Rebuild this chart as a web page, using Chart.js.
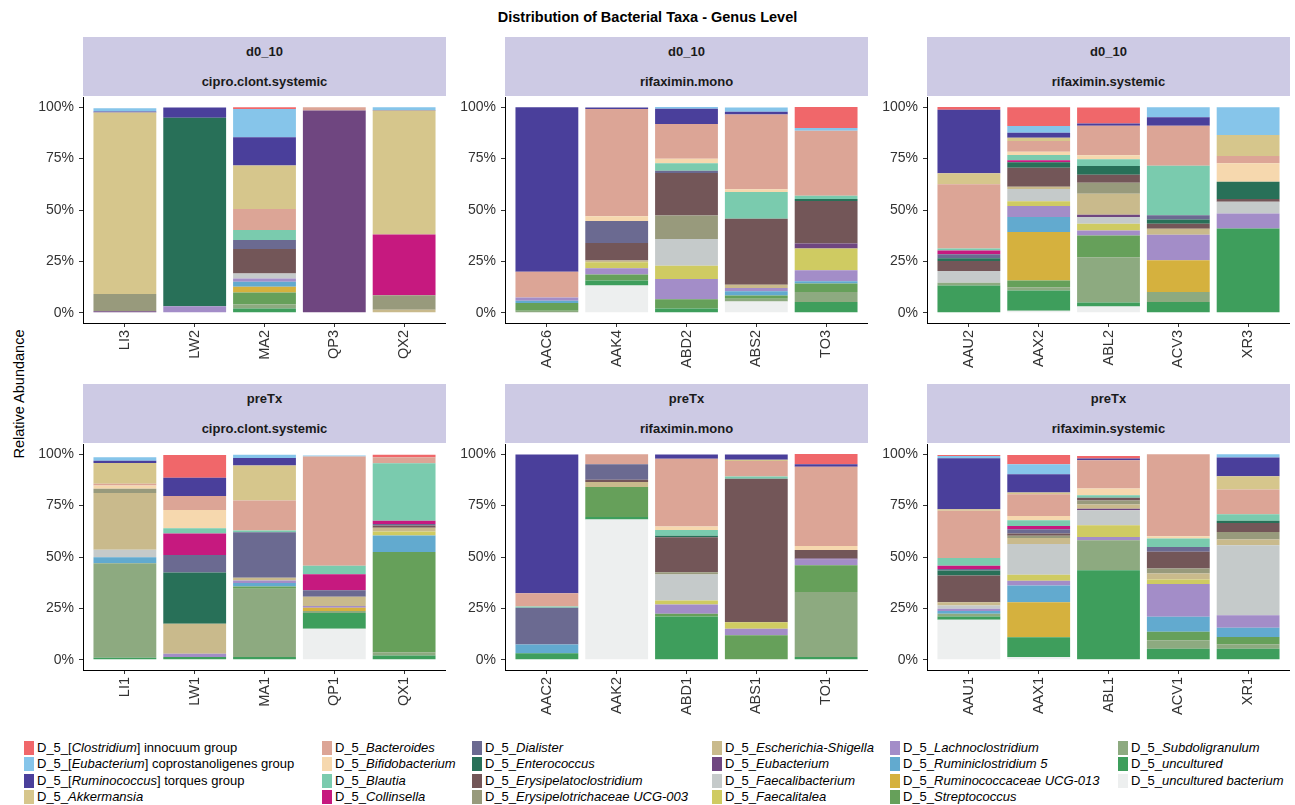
<!DOCTYPE html>
<html>
<head>
<meta charset="utf-8">
<title>Distribution of Bacterial Taxa - Genus Level</title>
<script src="https://cdn.jsdelivr.net/npm/chart.js@4"></script>
<style>
  body { margin: 0; background: #fff; font-family: "Liberation Sans", Arial, sans-serif; }
  #page { position: relative; width: 1295px; height: 805px; overflow: hidden; }
  .title { position: absolute; left: 0; top: 9px; width: 1295px; text-align: center; font-weight: bold; font-size: 14.5px; color: #000; }
  .ytitle { position: absolute; left: 19px; top: 394px; transform: translate(-50%, -50%) rotate(-90deg); font-size: 14.5px; color: #000; white-space: nowrap; }
  .strip { position: absolute; background: #cdcae4; color: #1a1a1a; font-weight: bold; font-size: 13px; text-align: center; }
  .panel { position: absolute; }
  .key { position: absolute; font-size: 13px; line-height: 16px; color: #000; white-space: nowrap; }
  .key span { display: inline-block; width: 10px; height: 14px; vertical-align: -3px; margin-right: 3px; }
</style>
</head>
<body>
<div id="page">
  <div class="title">Distribution of Bacterial Taxa - Genus Level</div>
  <div class="ytitle">Relative Abundance</div>
</div>
<script>
// samples, 5 per facet, facets in reading order
const samples = ["LI3", "LW2", "MA2", "QP3", "QX2",
                 "AAC6", "AAK4", "ABD2", "ABS2", "TO3",
                 "AAU2", "AAX2", "ABL2", "ACV3", "XR3",
                 "LI1", "LW1", "MA1", "QP1", "QX1",
                 "AAC2", "AAK2", "ABD1", "ABS1", "TO1",
                 "AAU1", "AAX1", "ABL1", "ACV1", "XR1"];
const timepoints = ["d0_10", "d0_10", "d0_10", "preTx", "preTx", "preTx"];
const groups = ["cipro.clont.systemic", "rifaximin.mono", "rifaximin.systemic",
                "cipro.clont.systemic", "rifaximin.mono", "rifaximin.systemic"];
const yTicks = [0, 25, 50, 75, 100];

// relative abundance (%) per genus, same order as samples
const clostridiumInnocuum   = [0,0,0.8,0,0, 0,0,0,0,10.2, 1.3,9.1,7.8,0,0, 0,11,0,0,1.3, 0,0,0,0,4.9, 0.5,4.5,1.3,0,0];
const eubacteriumCopro      = [1.6,0,13.8,0,1.3, 0,0,0.8,2.1,1.3, 0,3.3,0,4.9,13.5, 1.6,0,1.6,0.5,0, 0,0,0,0,0, 1.1,4.9,0,0,1.6];
const ruminococcusTorques   = [0.4,5,13.8,0,0.3, 80.1,0.8,7.5,1.3,0, 30.9,2.4,1.1,4.1,0, 1.1,8.9,3.7,0,0, 67.5,0,2.1,2.6,1.3, 24.8,8.9,0.8,0,9.1];
const akkermansia           = [88.4,0,21.1,0,60.3, 0,0,0,0,0, 5.4,1.6,0,0,10.2, 10.2,0,17,0,0, 0,0,0,0.6,0, 0.8,0.8,0,0,6.5];
const bacteroides           = [0,0,10.2,1.6,0, 12.5,52.2,16.9,36.4,31.7, 31.2,5.2,14.3,19.5,3.6, 0.8,6.8,14.6,53.2,2.9, 6.5,4.9,33,7.5,38.6, 23,10.6,13.8,39.9,12];
const bifidobacterium       = [0,0,0,0,0, 0,2.3,2.1,1.3,0, 0,1.6,2,0,8.9, 1.6,8.9,0,0,0, 0,0,1.6,0,1.9, 0,2.1,3.2,1.1,0];
const blautia               = [0,0,4.9,0,0, 0,0,3.7,13,1.5, 1,2.6,3.3,24.1,0, 0,2.6,0.8,4.1,27.9, 0.6,0,2.8,1.1,0, 3.7,2.8,1.3,4.1,3.2];
const collinsella           = [0,0,0,0,29.6, 0,0,0,0,0, 1.8,1,0,0,0, 0,10.4,0,7.8,1.6, 0,0,0,0,0, 1.6,1.6,0,0,0];
const dialister             = [0,0,4.4,0,0, 0,10.7,1.1,0,0, 2,0,0,2,0, 0,8.6,22.2,3.2,0.8, 17.9,7.5,0,0,0, 0.8,2.1,0,2.4,0];
const enterococcus          = [0,91.7,0,0,0, 0,0,0,0,1, 1.3,2.6,4.2,2.1,8.5, 0,24.9,0,0,0, 0,0,0.8,0,0, 2.4,0,0,0,1];
const erysipelatoclostridium = [0,0,11.9,0,0, 0,8.5,20.7,32.2,20.7, 4.9,9.3,3.9,2.4,1.3, 0,0,0,0,1.1, 0,1.1,17,69.8,4.1, 13,1.1,1.3,8.1,4.4];
const erysipelotrichaceae   = [8.4,0,0,0,7, 0,0,11.4,0,0, 0,0,5.4,0,0, 2.1,0,0,0,0, 0,0,1.1,0,0, 0,1.1,1.9,2.4,3.7];
const escherichiaShigella   = [0,0,0,0,1.5, 0,0.8,0,1.6,0, 0,1.1,10.2,2.9,0, 27.6,14.6,1.3,4.5,1.8, 0,2.4,0,0,0, 1.6,2.9,2.1,2.9,2.8];
const eubacterium           = [0.7,0,0,98.4,0, 0,0,0,0,2.4, 0,0,1.1,0,0, 0,0,0,0,0, 0,0,0,0,0.5, 0,0,0.8,0,0];
const faecalibacterium      = [0,0,2.4,0,0, 0,0,13,0,0, 5.7,5.9,3.3,0,5.7, 3.6,0,0,0,0, 0,0,12.7,0,0, 1.6,14.9,7.3,0,34.1];
const faecalitalea          = [0,0,0,0,0, 0,2.9,6.5,0,10.6, 0,2.3,3.3,0,0, 0,0,0,0,1.9, 0,0,1.9,3.2,0, 0,2.9,5.7,2.3,0];
const lachnoclostridium     = [0,3.2,1.6,0,0, 1.6,3.1,9.8,1.6,5.4, 0,5.4,2.4,12.5,7.3, 0,1.6,1.3,0.8,0, 0,0,4.5,3.2,2.8, 1.1,2.4,1.6,15.9,6];
const ruminiclostridium5    = [0,0,2.4,0,0, 1.1,0,0,2,1.1, 0,7.3,0,0,0, 2.9,0,1.6,0,8.1, 4.2,0,0,0,0, 1.3,8.1,0,7.3,4.5];
const ruminococcaceaeUCG013 = [0,0,2.8,0,0, 0,0,0,0,0, 0,23.6,0,15.4,0, 0,0,0,1.6,0, 0,0,0,0,0, 0,17,0,0,0];
const streptococcus         = [0,0,5.9,0,0, 3.7,2.9,4.6,1.6,4.1, 0,3.3,10.6,0,0, 0,0,1.1,0,48.7, 0,14.6,1.3,11.9,13, 0,0,0,4.1,3.6];
const subdoligranulum       = [0,0,2,0,0, 1,0,0,1.3,4.9, 1.3,1.6,22,4.9,0, 46,0,33.3,1,1.6, 0,0,0,0,31.7, 1.3,0,14.6,4.1,2.1];
const uncultured            = [0,0,2,0,0, 0,2.4,2,0,5.2, 13.3,9.8,2,5.2,41, 1,1.3,1.3,7.6,2.1, 3.2,1.3,21.1,0,1.3, 1.6,9.7,43.5,5.4,5.4];
const unculturedBacterium   = [0,0,0,0,0, 0,13.3,0,5.5,0, 0,1,3,0,0, 0,0,0,15.1,0, 0,68.2,0,0,0, 19.5,1.3,0,0,0];

// legend order = top of the stack first
const taxa = ["D_5_[Clostridium] innocuum group", "D_5_[Eubacterium] coprostanoligenes group",
  "D_5_[Ruminococcus] torques group", "D_5_Akkermansia", "D_5_Bacteroides", "D_5_Bifidobacterium",
  "D_5_Blautia", "D_5_Collinsella", "D_5_Dialister", "D_5_Enterococcus", "D_5_Erysipelatoclostridium",
  "D_5_Erysipelotrichaceae UCG-003", "D_5_Escherichia-Shigella", "D_5_Eubacterium",
  "D_5_Faecalibacterium", "D_5_Faecalitalea", "D_5_Lachnoclostridium", "D_5_Ruminiclostridium 5",
  "D_5_Ruminococcaceae UCG-013", "D_5_Streptococcus", "D_5_Subdoligranulum", "D_5_uncultured",
  "D_5_uncultured bacterium"];
const taxaValues = [clostridiumInnocuum, eubacteriumCopro, ruminococcusTorques, akkermansia,
  bacteroides, bifidobacterium, blautia, collinsella, dialister, enterococcus, erysipelatoclostridium,
  erysipelotrichaceae, escherichiaShigella, eubacterium, faecalibacterium, faecalitalea,
  lachnoclostridium, ruminiclostridium5, ruminococcaceaeUCG013, streptococcus, subdoligranulum,
  uncultured, unculturedBacterium];
const taxaColors = ["#f0676a", "#86c5ea", "#4a3f9b", "#d6c68c", "#dca596", "#f6d8ae", "#7acbae",
  "#c6197f", "#6b6a91", "#287058", "#735658", "#989a7c", "#c9ba8c", "#6f4680", "#c5caca",
  "#cfcb62", "#a38dc8", "#62aacf", "#d5b13e", "#66a05a", "#8daa80", "#3e9e5c", "#edefef"];

document.addEventListener("DOMContentLoaded", function () {
  var page = document.getElementById("page");
  var font = "'Liberation Sans', Arial, sans-serif";

  for (var p = 0; p < 6; p++) {
    var col = p % 3, row = Math.floor(p / 3);
    var axisX = 83 + col * 422;
    var areaTop = row === 0 ? 97 : 444;

    // facet strips (two stacked labels)
    var s1 = document.createElement("div");
    s1.className = "strip";
    s1.style.cssText = "left:" + axisX + "px;top:" + (areaTop - 60) + "px;width:363px;height:30px;line-height:30px;";
    s1.textContent = timepoints[p];
    page.appendChild(s1);
    var s2 = document.createElement("div");
    s2.className = "strip";
    s2.style.cssText = "left:" + axisX + "px;top:" + (areaTop - 30) + "px;width:363px;height:29px;line-height:29px;";
    s2.textContent = groups[p];
    page.appendChild(s2);

    var canvas = document.createElement("canvas");
    canvas.className = "panel";
    canvas.width = 413;
    canvas.height = 281;
    canvas.style.cssText = "left:" + (axisX - 50) + "px;top:" + areaTop + "px;width:413px;height:281px;";
    page.appendChild(canvas);

    var labels = samples.slice(p * 5, p * 5 + 5);
    // bottom of the stack first
    var datasets = [];
    for (var t = taxa.length - 1; t >= 0; t--) {
      datasets.push({
        label: taxa[t],
        data: taxaValues[t].slice(p * 5, p * 5 + 5).map(function (v, i) { return { x: i, y: v }; }),
        backgroundColor: taxaColors[t],
        borderWidth: 0,
        categoryPercentage: 0.9,
        barPercentage: 1.0
      });
    }

    (function (labels) {
      new Chart(canvas.getContext("2d"), {
        type: "bar",
        data: { datasets: datasets },
        options: {
          responsive: false,
          animation: false,
          layout: { padding: 0 },
          plugins: { legend: { display: false }, tooltip: { enabled: false } },
          scales: {
            x: {
              type: "linear",
              stacked: true,
              offset: false,
              min: -0.6,
              max: 4.6,
              afterBuildTicks: function (a) { a.ticks = labels.map(function (l, i) { return { value: i }; }); },
              afterFit: function (s) { s.height = 55; s.paddingLeft = 0; s.paddingRight = 0; },
              ticks: {
                autoSkip: false, minRotation: 90, maxRotation: 90, padding: 3,
                color: "#333", font: { family: font, size: 14.5 },
                callback: function (v) { return labels[v]; }
              },
              grid: { display: true, offset: false, drawOnChartArea: false, drawTicks: true, tickLength: 4, color: "#333" },
              border: { display: true, color: "#000", width: 1 }
            },
            y: {
              stacked: true,
              min: -5,
              max: 105,
              afterBuildTicks: function (a) { a.ticks = yTicks.map(function (v) { return { value: v }; }); },
              afterFit: function (s) { s.width = 50; s.paddingTop = 0; s.paddingBottom = 0; },
              ticks: {
                padding: 5, color: "#333", font: { family: font, size: 14 },
                callback: function (v) { return v + "%"; }
              },
              grid: { display: true, drawOnChartArea: false, drawTicks: true, tickLength: 4, color: "#333" },
              border: { display: true, color: "#000", width: 1 }
            }
          }
        }
      });
    })(labels);
  }

  // legend, filled column by column (4 rows)
  var colX = [24, 322, 472, 712, 890, 1118];
  taxa.forEach(function (name, i) {
    var html = name.indexOf("[") >= 0
      ? name.replace(/\[(.*?)\]/, "[<i>$1</i>]")
      : "D_5_<i>" + name.slice(4) + "</i>";
    var item = document.createElement("div");
    item.className = "key";
    item.style.left = colX[Math.floor(i / 4)] + "px";
    item.style.top = (740 + (i % 4) * 16.3) + "px";
    item.innerHTML = '<span style="background:' + taxaColors[i] + '"></span>' + html;
    page.appendChild(item);
  });
});
</script>
</body>
</html>
